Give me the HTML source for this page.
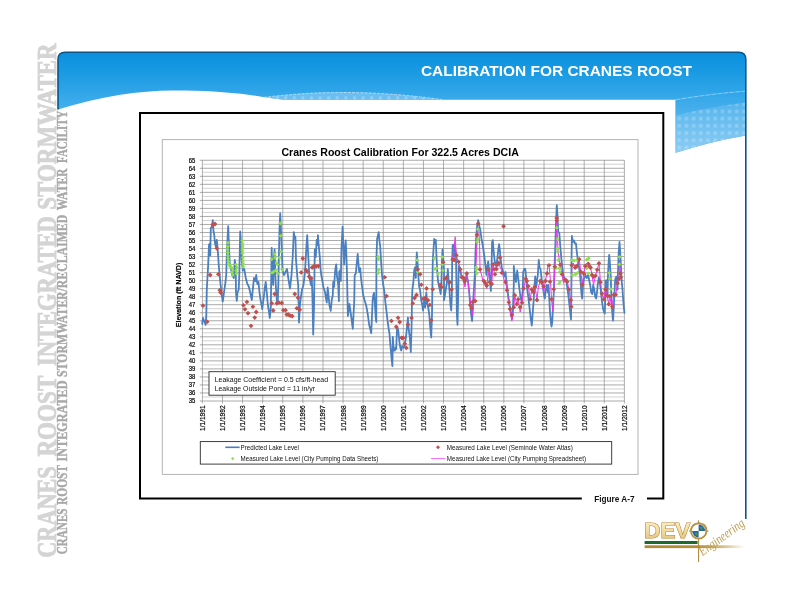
<!DOCTYPE html>
<html lang="en"><head><meta charset="utf-8"><title>Calibration for Cranes Roost</title>
<style>
html,body{margin:0;padding:0;background:#fff;}
body{width:800px;height:600px;overflow:hidden;font-family:"Liberation Sans",sans-serif;}
svg{display:block;position:absolute;left:0;top:0;}
.sans{font-family:"Liberation Sans",sans-serif;}
.serif{font-family:"Liberation Serif",serif;}
</style></head><body>
<svg width="800" height="600" viewBox="0 0 800 600">
<defs>
<linearGradient id="bg" x1="0" y1="52" x2="0" y2="110" gradientUnits="userSpaceOnUse">
<stop offset="0" stop-color="#0a8fde"/><stop offset="0.35" stop-color="#1a9ae3"/><stop offset="1" stop-color="#45b0ee"/></linearGradient>
<linearGradient id="tabg" x1="0" y1="100" x2="0" y2="152" gradientUnits="userSpaceOnUse">
<stop offset="0" stop-color="#3aa9ea"/><stop offset="1" stop-color="#7cc6f2"/></linearGradient>
<pattern id="dots" x="676" y="101" width="7.2" height="7.2" patternUnits="userSpaceOnUse">
<rect x="1.4" y="1.4" width="3.6" height="3.6" fill="#ffffff" fill-opacity="0.22"/></pattern>
<pattern id="dots2" x="266" y="93" width="8.6" height="8" patternUnits="userSpaceOnUse">
<rect x="1" y="3.4" width="3" height="3" fill="#ffffff" fill-opacity="0.25"/></pattern>
<linearGradient id="gold" x1="0" y1="0" x2="0" y2="1">
<stop offset="0" stop-color="#fdf3d2"/><stop offset="0.5" stop-color="#f3dca0"/><stop offset="1" stop-color="#dfba6c"/></linearGradient>
<linearGradient id="goldbar" x1="644" y1="0" x2="745" y2="0" gradientUnits="userSpaceOnUse">
<stop offset="0" stop-color="#b08a30"/><stop offset="0.55" stop-color="#b48e36"/><stop offset="0.8" stop-color="#d9c48e"/><stop offset="1" stop-color="#ffffff"/></linearGradient>
<clipPath id="plotclip"><rect x="202" y="160" width="423" height="241.5"/></clipPath>
</defs>
<rect width="800" height="600" fill="#ffffff"/>

<text class="serif" transform="translate(55.6,557.6999999999999) rotate(-90)" font-size="26.6" font-weight="bold" fill="#d4d4d4" stroke="#d4d4d4" stroke-width="0.85" stroke-linejoin="round" textLength="91.4" lengthAdjust="spacingAndGlyphs">CRANES</text>
<text class="serif" transform="translate(55.6,456.59999999999997) rotate(-90)" font-size="26.6" font-weight="bold" fill="#d4d4d4" stroke="#d4d4d4" stroke-width="0.85" stroke-linejoin="round" textLength="81.0" lengthAdjust="spacingAndGlyphs">ROOST</text>
<text class="serif" transform="translate(55.6,366.0) rotate(-90)" font-size="26.6" font-weight="bold" fill="#d4d4d4" stroke="#d4d4d4" stroke-width="0.85" stroke-linejoin="round" textLength="149.7" lengthAdjust="spacingAndGlyphs">INTEGRATED</text>
<text class="serif" transform="translate(55.6,209.70000000000002) rotate(-90)" font-size="26.6" font-weight="bold" fill="#d4d4d4" stroke="#d4d4d4" stroke-width="0.85" stroke-linejoin="round" textLength="166.4" lengthAdjust="spacingAndGlyphs">STORMWATER</text>
<text class="serif" transform="translate(67.2,554.2) rotate(-90)" font-size="13.6" font-weight="bold" fill="#a8a8a8" stroke="#a8a8a8" stroke-width="0.4" stroke-linejoin="round" textLength="45.7" lengthAdjust="spacingAndGlyphs">CRANES</text>
<text class="serif" transform="translate(67.2,504.9) rotate(-90)" font-size="13.6" font-weight="bold" fill="#a8a8a8" stroke="#a8a8a8" stroke-width="0.4" stroke-linejoin="round" textLength="39.8" lengthAdjust="spacingAndGlyphs">ROOST</text>
<text class="serif" transform="translate(67.2,461.5) rotate(-90)" font-size="13.6" font-weight="bold" fill="#a8a8a8" stroke="#a8a8a8" stroke-width="0.4" stroke-linejoin="round" textLength="81.0" lengthAdjust="spacingAndGlyphs">INTEGRATED</text>
<text class="serif" transform="translate(67.2,376.9) rotate(-90)" font-size="13.6" font-weight="bold" fill="#a8a8a8" stroke="#a8a8a8" stroke-width="0.4" stroke-linejoin="round" textLength="162.1" lengthAdjust="spacingAndGlyphs">STORMWATER/RECLAIMED</text>
<text class="serif" transform="translate(67.2,210.2) rotate(-90)" font-size="13.6" font-weight="bold" fill="#a8a8a8" stroke="#a8a8a8" stroke-width="0.4" stroke-linejoin="round" textLength="41.7" lengthAdjust="spacingAndGlyphs">WATER</text>
<text class="serif" transform="translate(67.2,162.89999999999998) rotate(-90)" font-size="13.6" font-weight="bold" fill="#a8a8a8" stroke="#a8a8a8" stroke-width="0.4" stroke-linejoin="round" textLength="52.1" lengthAdjust="spacingAndGlyphs">FACILITY</text>
<g id="banner">
<path d="M58,109.6 L58,59.5 Q58,52.3 65.2,52.3 L738.6,52.3 Q745.8,52.3 745.8,59.5 L745.8,135.4 Q712,141 675.6,152.8 L675.6,99.8 L284,99.8 C272,98.6 262,96.6 250,95 C225,91.6 200,90.4 172,90.5 C140,90.8 100,96 58,109.6 Z" fill="url(#bg)"/>
<path d="M675.6,99.8 L745.8,99.8 L745.8,135.4 Q712,141 675.6,152.8 Z" fill="url(#tabg)"/>
<path d="M675.6,115.3 Q712,106.5 745.8,102.5 L745.8,135.4 Q712,141 675.6,152.8 Z" fill="#ffffff" fill-opacity="0.12"/>
<path d="M675.6,115.3 Q712,106.5 745.8,102.5 L745.8,135.4 Q712,141 675.6,152.8 Z" fill="url(#dots)"/>
<path d="M675.6,99.8 Q712,93.6 745.8,91.2" fill="none" stroke="#d8eefb" stroke-width="0.7" stroke-opacity="0.75" stroke-dasharray="5 1"/>
<path d="M264,97.4 Q350,86 442,99.8 L284,99.8 Z" fill="#7ec6f2" fill-opacity="0.75"/>
<path d="M264,97.4 Q350,86 442,99.8 L284,99.8 Z" fill="url(#dots2)"/>
<path d="M264,97.4 Q350,86.6 442,99.6" fill="none" stroke="#e4f3fc" stroke-width="0.7" stroke-dasharray="3 1.2" stroke-opacity="0.9"/>
<path d="M58,109.6 L58,59.5 Q58,52.3 65.2,52.3 L738.6,52.3 Q745.8,52.3 745.8,59.5 L745.8,519" fill="none" stroke="#0a5686" stroke-width="1.6"/>
<text class="sans" x="420.9" y="76.1" font-size="15.5" font-weight="bold" fill="#ffffff" textLength="271" lengthAdjust="spacingAndGlyphs">CALIBRATION FOR CRANES ROOST</text>
</g>

<g id="frame">
<path d="M581.8,498.5 L140,498.5 L140,113 L663.3,113 L663.3,498.5 L647,498.5" fill="none" stroke="#000000" stroke-width="2"/>
<text class="sans" x="594.2" y="501.6" font-size="8.3" font-weight="bold" fill="#111111" textLength="40.3" lengthAdjust="spacingAndGlyphs">Figure A-7</text>
<rect x="162.3" y="139.6" width="475.7" height="334.8" fill="#ffffff" stroke="#b4b4b4" stroke-width="1"/>
</g>

<g id="grid" stroke-width="0.7">
<line x1="199.8" y1="160.25" x2="624.4" y2="160.25" stroke="#8e8e8e" stroke-width="0.75"/>
<line x1="202.4" y1="164.26" x2="624.4" y2="164.26" stroke="#b4b4b4" stroke-width="0.6"/>
<line x1="199.8" y1="168.28" x2="624.4" y2="168.28" stroke="#8e8e8e" stroke-width="0.75"/>
<line x1="202.4" y1="172.29" x2="624.4" y2="172.29" stroke="#b4b4b4" stroke-width="0.6"/>
<line x1="199.8" y1="176.30" x2="624.4" y2="176.30" stroke="#8e8e8e" stroke-width="0.75"/>
<line x1="202.4" y1="180.31" x2="624.4" y2="180.31" stroke="#b4b4b4" stroke-width="0.6"/>
<line x1="199.8" y1="184.32" x2="624.4" y2="184.32" stroke="#8e8e8e" stroke-width="0.75"/>
<line x1="202.4" y1="188.34" x2="624.4" y2="188.34" stroke="#b4b4b4" stroke-width="0.6"/>
<line x1="199.8" y1="192.35" x2="624.4" y2="192.35" stroke="#8e8e8e" stroke-width="0.75"/>
<line x1="202.4" y1="196.36" x2="624.4" y2="196.36" stroke="#b4b4b4" stroke-width="0.6"/>
<line x1="199.8" y1="200.38" x2="624.4" y2="200.38" stroke="#8e8e8e" stroke-width="0.75"/>
<line x1="202.4" y1="204.39" x2="624.4" y2="204.39" stroke="#b4b4b4" stroke-width="0.6"/>
<line x1="199.8" y1="208.40" x2="624.4" y2="208.40" stroke="#8e8e8e" stroke-width="0.75"/>
<line x1="202.4" y1="212.41" x2="624.4" y2="212.41" stroke="#b4b4b4" stroke-width="0.6"/>
<line x1="199.8" y1="216.43" x2="624.4" y2="216.43" stroke="#8e8e8e" stroke-width="0.75"/>
<line x1="202.4" y1="220.44" x2="624.4" y2="220.44" stroke="#b4b4b4" stroke-width="0.6"/>
<line x1="199.8" y1="224.45" x2="624.4" y2="224.45" stroke="#8e8e8e" stroke-width="0.75"/>
<line x1="202.4" y1="228.46" x2="624.4" y2="228.46" stroke="#b4b4b4" stroke-width="0.6"/>
<line x1="199.8" y1="232.47" x2="624.4" y2="232.47" stroke="#8e8e8e" stroke-width="0.75"/>
<line x1="202.4" y1="236.49" x2="624.4" y2="236.49" stroke="#b4b4b4" stroke-width="0.6"/>
<line x1="199.8" y1="240.50" x2="624.4" y2="240.50" stroke="#8e8e8e" stroke-width="0.75"/>
<line x1="202.4" y1="244.51" x2="624.4" y2="244.51" stroke="#b4b4b4" stroke-width="0.6"/>
<line x1="199.8" y1="248.53" x2="624.4" y2="248.53" stroke="#8e8e8e" stroke-width="0.75"/>
<line x1="202.4" y1="252.54" x2="624.4" y2="252.54" stroke="#b4b4b4" stroke-width="0.6"/>
<line x1="199.8" y1="256.55" x2="624.4" y2="256.55" stroke="#8e8e8e" stroke-width="0.75"/>
<line x1="202.4" y1="260.56" x2="624.4" y2="260.56" stroke="#b4b4b4" stroke-width="0.6"/>
<line x1="199.8" y1="264.57" x2="624.4" y2="264.57" stroke="#8e8e8e" stroke-width="0.75"/>
<line x1="202.4" y1="268.59" x2="624.4" y2="268.59" stroke="#b4b4b4" stroke-width="0.6"/>
<line x1="199.8" y1="272.60" x2="624.4" y2="272.60" stroke="#8e8e8e" stroke-width="0.75"/>
<line x1="202.4" y1="276.61" x2="624.4" y2="276.61" stroke="#b4b4b4" stroke-width="0.6"/>
<line x1="199.8" y1="280.62" x2="624.4" y2="280.62" stroke="#8e8e8e" stroke-width="0.75"/>
<line x1="202.4" y1="284.64" x2="624.4" y2="284.64" stroke="#b4b4b4" stroke-width="0.6"/>
<line x1="199.8" y1="288.65" x2="624.4" y2="288.65" stroke="#8e8e8e" stroke-width="0.75"/>
<line x1="202.4" y1="292.66" x2="624.4" y2="292.66" stroke="#b4b4b4" stroke-width="0.6"/>
<line x1="199.8" y1="296.68" x2="624.4" y2="296.68" stroke="#8e8e8e" stroke-width="0.75"/>
<line x1="202.4" y1="300.69" x2="624.4" y2="300.69" stroke="#b4b4b4" stroke-width="0.6"/>
<line x1="199.8" y1="304.70" x2="624.4" y2="304.70" stroke="#8e8e8e" stroke-width="0.75"/>
<line x1="202.4" y1="308.71" x2="624.4" y2="308.71" stroke="#b4b4b4" stroke-width="0.6"/>
<line x1="199.8" y1="312.73" x2="624.4" y2="312.73" stroke="#8e8e8e" stroke-width="0.75"/>
<line x1="202.4" y1="316.74" x2="624.4" y2="316.74" stroke="#b4b4b4" stroke-width="0.6"/>
<line x1="199.8" y1="320.75" x2="624.4" y2="320.75" stroke="#8e8e8e" stroke-width="0.75"/>
<line x1="202.4" y1="324.76" x2="624.4" y2="324.76" stroke="#b4b4b4" stroke-width="0.6"/>
<line x1="199.8" y1="328.77" x2="624.4" y2="328.77" stroke="#8e8e8e" stroke-width="0.75"/>
<line x1="202.4" y1="332.79" x2="624.4" y2="332.79" stroke="#b4b4b4" stroke-width="0.6"/>
<line x1="199.8" y1="336.80" x2="624.4" y2="336.80" stroke="#8e8e8e" stroke-width="0.75"/>
<line x1="202.4" y1="340.81" x2="624.4" y2="340.81" stroke="#b4b4b4" stroke-width="0.6"/>
<line x1="199.8" y1="344.82" x2="624.4" y2="344.82" stroke="#8e8e8e" stroke-width="0.75"/>
<line x1="202.4" y1="348.84" x2="624.4" y2="348.84" stroke="#b4b4b4" stroke-width="0.6"/>
<line x1="199.8" y1="352.85" x2="624.4" y2="352.85" stroke="#8e8e8e" stroke-width="0.75"/>
<line x1="202.4" y1="356.86" x2="624.4" y2="356.86" stroke="#b4b4b4" stroke-width="0.6"/>
<line x1="199.8" y1="360.88" x2="624.4" y2="360.88" stroke="#8e8e8e" stroke-width="0.75"/>
<line x1="202.4" y1="364.89" x2="624.4" y2="364.89" stroke="#b4b4b4" stroke-width="0.6"/>
<line x1="199.8" y1="368.90" x2="624.4" y2="368.90" stroke="#8e8e8e" stroke-width="0.75"/>
<line x1="202.4" y1="372.91" x2="624.4" y2="372.91" stroke="#b4b4b4" stroke-width="0.6"/>
<line x1="199.8" y1="376.93" x2="624.4" y2="376.93" stroke="#8e8e8e" stroke-width="0.75"/>
<line x1="202.4" y1="380.94" x2="624.4" y2="380.94" stroke="#b4b4b4" stroke-width="0.6"/>
<line x1="199.8" y1="384.95" x2="624.4" y2="384.95" stroke="#8e8e8e" stroke-width="0.75"/>
<line x1="202.4" y1="388.96" x2="624.4" y2="388.96" stroke="#b4b4b4" stroke-width="0.6"/>
<line x1="199.8" y1="392.98" x2="624.4" y2="392.98" stroke="#8e8e8e" stroke-width="0.75"/>
<line x1="202.4" y1="396.99" x2="624.4" y2="396.99" stroke="#b4b4b4" stroke-width="0.6"/>
<line x1="199.8" y1="401.00" x2="624.4" y2="401.00" stroke="#8e8e8e" stroke-width="0.75"/>
<line x1="202.40" y1="160.25" x2="202.40" y2="403.4" stroke="#878787" stroke-width="0.65"/>
<line x1="222.50" y1="160.25" x2="222.50" y2="403.4" stroke="#878787" stroke-width="0.65"/>
<line x1="242.59" y1="160.25" x2="242.59" y2="403.4" stroke="#878787" stroke-width="0.65"/>
<line x1="262.69" y1="160.25" x2="262.69" y2="403.4" stroke="#878787" stroke-width="0.65"/>
<line x1="282.78" y1="160.25" x2="282.78" y2="403.4" stroke="#878787" stroke-width="0.65"/>
<line x1="302.88" y1="160.25" x2="302.88" y2="403.4" stroke="#878787" stroke-width="0.65"/>
<line x1="322.97" y1="160.25" x2="322.97" y2="403.4" stroke="#878787" stroke-width="0.65"/>
<line x1="343.07" y1="160.25" x2="343.07" y2="403.4" stroke="#878787" stroke-width="0.65"/>
<line x1="363.16" y1="160.25" x2="363.16" y2="403.4" stroke="#878787" stroke-width="0.65"/>
<line x1="383.26" y1="160.25" x2="383.26" y2="403.4" stroke="#878787" stroke-width="0.65"/>
<line x1="403.35" y1="160.25" x2="403.35" y2="403.4" stroke="#878787" stroke-width="0.65"/>
<line x1="423.45" y1="160.25" x2="423.45" y2="403.4" stroke="#878787" stroke-width="0.65"/>
<line x1="443.54" y1="160.25" x2="443.54" y2="403.4" stroke="#878787" stroke-width="0.65"/>
<line x1="463.64" y1="160.25" x2="463.64" y2="403.4" stroke="#878787" stroke-width="0.65"/>
<line x1="483.73" y1="160.25" x2="483.73" y2="403.4" stroke="#878787" stroke-width="0.65"/>
<line x1="503.83" y1="160.25" x2="503.83" y2="403.4" stroke="#878787" stroke-width="0.65"/>
<line x1="523.92" y1="160.25" x2="523.92" y2="403.4" stroke="#878787" stroke-width="0.65"/>
<line x1="544.02" y1="160.25" x2="544.02" y2="403.4" stroke="#878787" stroke-width="0.65"/>
<line x1="564.11" y1="160.25" x2="564.11" y2="403.4" stroke="#878787" stroke-width="0.65"/>
<line x1="584.21" y1="160.25" x2="584.21" y2="403.4" stroke="#878787" stroke-width="0.65"/>
<line x1="604.30" y1="160.25" x2="604.30" y2="403.4" stroke="#878787" stroke-width="0.65"/>
<line x1="624.40" y1="160.25" x2="624.40" y2="403.4" stroke="#878787" stroke-width="0.65"/>
</g>
<g id="ylabels" class="sans" font-size="6.9" fill="#000" stroke="#000" stroke-width="0.2" text-anchor="end">
<text x="195.4" y="403.45" textLength="6.6" lengthAdjust="spacingAndGlyphs">35</text>
<text x="195.4" y="395.43" textLength="6.6" lengthAdjust="spacingAndGlyphs">36</text>
<text x="195.4" y="387.40" textLength="6.6" lengthAdjust="spacingAndGlyphs">37</text>
<text x="195.4" y="379.38" textLength="6.6" lengthAdjust="spacingAndGlyphs">38</text>
<text x="195.4" y="371.35" textLength="6.6" lengthAdjust="spacingAndGlyphs">39</text>
<text x="195.4" y="363.32" textLength="6.6" lengthAdjust="spacingAndGlyphs">40</text>
<text x="195.4" y="355.30" textLength="6.6" lengthAdjust="spacingAndGlyphs">41</text>
<text x="195.4" y="347.27" textLength="6.6" lengthAdjust="spacingAndGlyphs">42</text>
<text x="195.4" y="339.25" textLength="6.6" lengthAdjust="spacingAndGlyphs">43</text>
<text x="195.4" y="331.22" textLength="6.6" lengthAdjust="spacingAndGlyphs">44</text>
<text x="195.4" y="323.20" textLength="6.6" lengthAdjust="spacingAndGlyphs">45</text>
<text x="195.4" y="315.18" textLength="6.6" lengthAdjust="spacingAndGlyphs">46</text>
<text x="195.4" y="307.15" textLength="6.6" lengthAdjust="spacingAndGlyphs">47</text>
<text x="195.4" y="299.12" textLength="6.6" lengthAdjust="spacingAndGlyphs">48</text>
<text x="195.4" y="291.10" textLength="6.6" lengthAdjust="spacingAndGlyphs">49</text>
<text x="195.4" y="283.07" textLength="6.6" lengthAdjust="spacingAndGlyphs">50</text>
<text x="195.4" y="275.05" textLength="6.6" lengthAdjust="spacingAndGlyphs">51</text>
<text x="195.4" y="267.02" textLength="6.6" lengthAdjust="spacingAndGlyphs">52</text>
<text x="195.4" y="259.00" textLength="6.6" lengthAdjust="spacingAndGlyphs">53</text>
<text x="195.4" y="250.97" textLength="6.6" lengthAdjust="spacingAndGlyphs">54</text>
<text x="195.4" y="242.95" textLength="6.6" lengthAdjust="spacingAndGlyphs">55</text>
<text x="195.4" y="234.92" textLength="6.6" lengthAdjust="spacingAndGlyphs">56</text>
<text x="195.4" y="226.90" textLength="6.6" lengthAdjust="spacingAndGlyphs">57</text>
<text x="195.4" y="218.88" textLength="6.6" lengthAdjust="spacingAndGlyphs">58</text>
<text x="195.4" y="210.85" textLength="6.6" lengthAdjust="spacingAndGlyphs">59</text>
<text x="195.4" y="202.82" textLength="6.6" lengthAdjust="spacingAndGlyphs">60</text>
<text x="195.4" y="194.80" textLength="6.6" lengthAdjust="spacingAndGlyphs">61</text>
<text x="195.4" y="186.77" textLength="6.6" lengthAdjust="spacingAndGlyphs">62</text>
<text x="195.4" y="178.75" textLength="6.6" lengthAdjust="spacingAndGlyphs">63</text>
<text x="195.4" y="170.72" textLength="6.6" lengthAdjust="spacingAndGlyphs">64</text>
<text x="195.4" y="162.70" textLength="6.6" lengthAdjust="spacingAndGlyphs">65</text>
</g>
<g id="xlabels" class="sans" font-size="6.9" fill="#000" stroke="#000" stroke-width="0.2">
<text transform="translate(204.90,431) rotate(-90)" textLength="25.6" lengthAdjust="spacingAndGlyphs">1/1/1991</text>
<text transform="translate(225.00,431) rotate(-90)" textLength="25.6" lengthAdjust="spacingAndGlyphs">1/1/1992</text>
<text transform="translate(245.09,431) rotate(-90)" textLength="25.6" lengthAdjust="spacingAndGlyphs">1/1/1993</text>
<text transform="translate(265.19,431) rotate(-90)" textLength="25.6" lengthAdjust="spacingAndGlyphs">1/1/1994</text>
<text transform="translate(285.28,431) rotate(-90)" textLength="25.6" lengthAdjust="spacingAndGlyphs">1/1/1995</text>
<text transform="translate(305.38,431) rotate(-90)" textLength="25.6" lengthAdjust="spacingAndGlyphs">1/1/1996</text>
<text transform="translate(325.47,431) rotate(-90)" textLength="25.6" lengthAdjust="spacingAndGlyphs">1/1/1997</text>
<text transform="translate(345.57,431) rotate(-90)" textLength="25.6" lengthAdjust="spacingAndGlyphs">1/1/1998</text>
<text transform="translate(365.66,431) rotate(-90)" textLength="25.6" lengthAdjust="spacingAndGlyphs">1/1/1999</text>
<text transform="translate(385.76,431) rotate(-90)" textLength="25.6" lengthAdjust="spacingAndGlyphs">1/1/2000</text>
<text transform="translate(405.85,431) rotate(-90)" textLength="25.6" lengthAdjust="spacingAndGlyphs">1/1/2001</text>
<text transform="translate(425.95,431) rotate(-90)" textLength="25.6" lengthAdjust="spacingAndGlyphs">1/1/2002</text>
<text transform="translate(446.04,431) rotate(-90)" textLength="25.6" lengthAdjust="spacingAndGlyphs">1/1/2003</text>
<text transform="translate(466.14,431) rotate(-90)" textLength="25.6" lengthAdjust="spacingAndGlyphs">1/1/2004</text>
<text transform="translate(486.23,431) rotate(-90)" textLength="25.6" lengthAdjust="spacingAndGlyphs">1/1/2005</text>
<text transform="translate(506.33,431) rotate(-90)" textLength="25.6" lengthAdjust="spacingAndGlyphs">1/1/2006</text>
<text transform="translate(526.42,431) rotate(-90)" textLength="25.6" lengthAdjust="spacingAndGlyphs">1/1/2007</text>
<text transform="translate(546.52,431) rotate(-90)" textLength="25.6" lengthAdjust="spacingAndGlyphs">1/1/2008</text>
<text transform="translate(566.61,431) rotate(-90)" textLength="25.6" lengthAdjust="spacingAndGlyphs">1/1/2009</text>
<text transform="translate(586.71,431) rotate(-90)" textLength="25.6" lengthAdjust="spacingAndGlyphs">1/1/2010</text>
<text transform="translate(606.80,431) rotate(-90)" textLength="25.6" lengthAdjust="spacingAndGlyphs">1/1/2011</text>
<text transform="translate(626.90,431) rotate(-90)" textLength="25.6" lengthAdjust="spacingAndGlyphs">1/1/2012</text>
</g>
<text class="sans" transform="translate(180.5,327.3) rotate(-90)" font-size="7.4" font-weight="bold" fill="#000" stroke="#000" stroke-width="0.15" textLength="64.6" lengthAdjust="spacingAndGlyphs">Elevation (ft NAVD)</text>
<text class="sans" x="281.4" y="155.9" font-size="11.5" font-weight="bold" fill="#000000" textLength="237.4" lengthAdjust="spacingAndGlyphs">Cranes Roost Calibration For 322.5 Acres DCIA</text>
<g id="series">
<polyline points="202.2,324.0 203.0,318.0 204.5,321.8 205.7,324.8 206.3,315.0 206.8,289.5 208.2,264.5 209.0,245.0 209.8,243.5 210.2,255.5 210.8,228.5 212.0,226.2 212.8,220.2 213.5,231.5 214.2,234.5 215.0,243.5 215.8,246.5 216.8,239.8 217.7,249.5 218.8,266.0 220.2,281.0 221.8,295.5 222.8,301.5 224.0,292.5 225.5,282.0 226.2,275.0 227.0,249.5 228.2,226.2 228.8,242.0 229.7,263.0 230.8,267.5 232.2,275.0 233.8,278.0 234.8,260.0 235.7,267.5 236.0,292.5 236.8,300.8 237.5,292.5 238.7,289.5 239.3,275.0 240.2,231.5 240.8,239.0 241.7,260.0 242.8,270.5 244.2,269.0 245.8,278.0 247.2,283.5 248.8,286.5 250.2,292.5 251.8,300.0 252.8,289.5 254.0,278.0 255.5,281.0 256.2,275.0 257.3,284.0 258.5,282.0 259.2,289.5 260.3,298.5 261.5,304.5 262.2,309.0 263.8,297.0 264.8,288.0 265.7,281.8 266.8,292.5 267.8,304.5 269.0,312.0 269.8,318.0 270.8,307.5 271.7,248.0 272.3,275.0 273.2,285.0 273.8,260.0 274.6,249.5 275.3,275.0 275.8,285.0 276.8,300.0 277.7,303.0 278.3,285.0 278.8,260.0 279.5,230.0 280.2,213.2 281.0,230.0 281.8,249.5 282.5,270.5 284.0,275.0 285.5,272.0 287.0,269.0 288.5,279.5 290.0,288.5 291.5,275.0 292.7,257.0 293.8,232.2 294.5,237.5 295.4,236.8 296.0,260.0 297.2,275.0 297.2,276.0 298.2,285.0 299.0,322.5 299.8,307.5 300.5,300.0 302.0,289.5 303.5,285.0 305.0,272.0 306.5,245.0 307.2,235.2 308.3,257.0 309.5,278.0 311.0,285.0 311.8,277.5 312.5,300.0 313.2,334.5 314.0,307.5 314.8,249.5 315.8,257.0 316.7,239.8 317.8,245.0 317.9,235.2 318.7,245.0 319.8,257.0 320.8,272.0 323.5,287.5 325.0,292.0 326.2,299.5 326.8,302.5 327.7,287.5 328.3,293.5 329.5,305.5 330.7,310.8 331.8,299.5 332.8,295.0 333.2,281.8 334.0,287.0 335.2,270.5 336.2,264.5 337.0,276.5 338.2,284.0 338.9,301.0 339.2,272.0 340.0,270.5 340.8,281.0 341.5,248.0 342.6,226.7 343.3,245.0 344.2,264.5 344.9,249.5 345.7,240.5 346.3,252.5 346.9,270.5 347.5,299.5 347.9,316.0 348.7,310.0 349.4,304.0 350.5,311.5 351.7,320.5 352.8,328.8 353.5,314.5 354.2,302.5 354.7,275.0 355.8,273.5 356.8,263.0 357.7,254.0 358.4,263.0 359.2,272.0 360.2,268.2 361.0,278.0 362.1,287.0 363.2,295.0 364.8,301.0 366.2,305.5 367.8,314.5 369.2,325.0 370.4,329.5 371.2,333.2 371.9,317.5 372.7,299.5 373.3,295.0 374.1,292.8 374.8,302.5 375.7,317.5 376.3,322.0 376.4,260.0 377.1,239.0 377.8,236.0 378.7,232.2 379.4,240.5 380.2,246.5 381.1,261.5 382.0,275.0 383.1,284.0 384.2,290.5 385.4,302.5 386.5,311.5 387.7,322.0 388.8,329.5 389.5,334.0 390.2,343.0 391.0,352.0 391.8,361.0 392.4,366.2 392.8,337.0 393.7,350.5 394.8,350.5 395.5,347.5 396.2,349.0 397.0,329.5 397.8,328.0 398.5,332.5 399.2,340.0 400.0,346.0 401.2,350.5 402.2,346.0 403.3,347.5 404.5,346.0 406.0,337.0 407.2,325.0 407.9,317.5 408.7,329.5 409.8,337.0 410.8,352.0 411.6,325.0 412.0,299.5 412.4,289.0 413.2,284.0 414.2,270.5 415.0,267.5 415.8,278.0 416.8,252.5 417.7,264.5 418.3,275.0 419.2,287.0 420.0,289.5 421.2,300.0 422.2,304.5 423.0,310.5 424.2,300.0 425.2,307.5 426.3,292.5 427.2,303.0 428.2,307.5 429.3,315.0 430.2,327.0 431.2,337.5 432.0,315.0 432.4,285.0 432.8,260.0 433.5,249.5 434.2,239.0 435.0,243.5 435.8,239.8 436.5,257.0 437.2,270.5 438.0,281.0 438.8,285.0 439.8,289.5 440.7,294.0 441.4,285.0 441.8,266.0 442.5,249.5 443.2,257.0 444.0,270.5 444.0,300.0 444.8,295.5 445.8,289.5 447.0,282.0 447.8,269.0 448.5,278.0 449.6,292.5 450.4,304.5 451.2,310.5 451.8,297.0 452.2,260.0 452.7,245.0 453.3,245.0 454.2,257.0 454.8,243.5 456.0,257.0 456.9,315.0 457.5,324.8 458.1,300.0 458.7,266.0 459.8,267.5 461.2,275.0 462.8,278.0 465.0,284.0 466.5,275.0 468.0,281.0 469.2,292.5 470.2,304.5 471.0,313.5 472.1,321.0 472.8,307.5 473.7,292.5 474.8,275.0 475.5,252.5 476.2,237.5 477.0,227.0 478.2,220.2 479.2,225.5 480.3,230.0 481.5,239.0 482.7,245.0 483.8,252.5 484.8,260.0 485.7,267.5 486.4,275.0 487.2,267.5 488.2,261.5 489.0,269.0 489.8,281.0 490.9,291.0 491.7,260.0 492.1,242.0 492.8,240.2 493.5,249.5 494.2,257.0 495.0,263.0 496.1,266.0 497.2,260.0 498.3,249.5 499.1,244.2 499.8,249.5 500.7,260.0 501.8,267.5 503.2,272.0 504.3,276.5 505.5,272.0 506.7,284.0 507.8,292.5 508.8,300.0 510.0,307.5 511.2,315.0 512.2,318.8 513.0,307.5 513.8,285.0 513.8,266.0 514.8,275.0 516.0,282.0 517.2,270.5 518.2,278.0 519.3,288.0 520.5,297.0 521.7,301.5 522.8,289.5 523.2,272.0 524.2,269.0 525.3,269.0 526.2,278.0 527.2,289.5 528.3,297.0 529.5,307.5 530.7,318.0 531.8,325.5 532.8,312.0 533.7,300.0 534.5,285.0 535.2,276.5 536.2,287.0 537.8,275.0 538.8,260.0 539.5,267.5 540.5,269.0 541.5,278.0 542.5,285.0 543.7,292.5 544.8,298.5 545.8,289.5 547.0,285.0 547.8,292.5 548.5,285.0 549.2,297.0 550.0,312.0 550.8,321.0 551.5,326.7 552.2,322.5 553.0,307.5 553.8,292.5 554.5,267.5 555.2,249.5 556.0,222.5 556.8,205.2 557.5,215.0 558.2,231.5 559.3,233.0 560.2,245.0 561.2,257.0 562.3,267.5 563.5,276.5 565.0,279.0 566.5,282.0 568.0,292.5 569.2,303.0 570.2,312.0 571.0,319.5 571.3,300.0 571.5,260.0 571.9,236.0 572.8,242.0 574.0,240.5 575.0,243.5 576.0,243.5 576.7,251.0 577.8,260.0 578.8,266.0 580.0,275.0 580.0,274.5 580.8,285.0 581.5,294.0 582.2,298.5 583.0,285.0 583.8,279.0 584.5,278.0 585.5,275.0 586.8,278.0 588.2,275.0 589.3,281.0 590.2,285.0 591.2,292.5 592.3,294.0 593.2,285.0 594.2,289.5 595.3,297.0 596.2,298.5 597.0,292.5 597.7,285.0 598.8,277.5 599.8,282.0 600.7,289.5 601.8,300.0 602.8,307.5 604.0,312.0 604.8,313.5 605.2,300.0 605.5,281.0 606.2,280.2 606.7,285.0 607.5,295.5 608.0,275.0 608.5,264.5 609.2,254.8 610.0,264.5 610.8,278.0 611.0,285.0 611.5,300.0 612.2,312.0 613.0,320.7 613.8,307.5 614.5,292.5 615.2,279.5 616.3,276.5 617.2,284.0 617.5,289.5 618.0,272.0 618.7,252.5 619.5,242.0 620.2,252.5 621.0,267.5 621.7,281.0 622.5,289.5 623.2,300.0 624.0,309.0 624.5,312.8" fill="none" stroke="#4a7fc0" stroke-width="1.8" stroke-linejoin="round" stroke-linecap="round" />
<polyline points="451.8,260.0 452.7,257.0 453.8,251.0 455.2,236.8 456.0,251.0 457.2,258.5 458.7,263.0 460.2,269.0 461.7,275.0 463.5,279.5 465.0,287.0 466.5,273.5 468.0,282.0 470.2,300.0 471.8,312.0 472.5,315.0 473.2,303.0 474.8,300.0 475.8,270.5 477.0,242.0 477.8,227.0 478.8,230.0 479.6,243.5 480.0,269.0 481.5,275.0 483.0,281.0 485.2,284.8 486.8,288.5 488.2,270.5 489.8,282.5 491.7,285.5 492.8,266.0 494.2,270.5 495.8,267.5 498.0,261.5 499.5,266.0 501.8,270.5 504.0,279.5 505.8,282.8 507.0,291.0 508.8,303.0 510.0,309.8 511.8,321.0 513.8,307.5 514.8,295.5 516.8,304.5 518.2,299.2 520.2,312.0 522.0,303.0 523.5,288.8 525.8,279.0 526.8,281.2 528.3,285.8 530.2,299.2 531.8,289.5 533.5,292.2 535.2,287.2 537.0,300.0 538.3,287.2 540.5,280.5 542.2,283.5 543.7,292.5 545.5,280.2 547.0,273.3 547.8,266.0 549.0,265.2 550.5,281.2 551.5,299.2 552.7,310.5 553.8,289.2 554.8,266.8 556.0,245.0 556.8,218.0 557.5,239.0 558.2,252.5 559.3,260.0 560.2,264.8 562.0,274.2 563.5,283.2 565.0,279.0 567.2,280.5 568.8,289.5 570.7,300.0 571.3,306.8 571.8,265.2 573.2,263.0 575.2,267.5 577.0,266.0 579.2,259.2 580.8,271.7 582.2,284.2 583.8,273.5 585.2,266.0 588.2,263.8 590.5,267.5 592.0,275.0 593.5,285.0 595.5,275.8 597.2,269.8 599.0,263.3 600.5,282.2 602.0,293.7 604.0,299.2 605.5,289.5 607.0,295.5 608.8,304.2 609.5,296.2 612.2,306.8 613.8,294.8 615.7,294.8 617.5,283.5 619.0,279.0 619.5,260.0 620.2,273.5 620.8,277.2" fill="none" stroke="#f432f0" stroke-width="1.0" stroke-linejoin="round" stroke-linecap="round" />
<path fill="#8ee04a" d="M226.2,242.8L228.2,240.8L230.2,242.8L228.2,244.8ZM225.8,246.5L227.8,244.5L229.8,246.5L227.8,248.5ZM225.4,249.5L227.4,247.5L229.4,249.5L227.4,251.5ZM225.8,252.5L227.8,250.5L229.8,252.5L227.8,254.5ZM225.8,255.5L227.8,253.5L229.8,255.5L227.8,257.5ZM226.2,258.5L228.2,256.5L230.2,258.5L228.2,260.5ZM226.5,261.5L228.5,259.5L230.5,261.5L228.5,263.5ZM227.2,264.5L229.2,262.5L231.2,264.5L229.2,266.5ZM228.0,266.8L230.0,264.8L232.0,266.8L230.0,268.8ZM230.2,268.2L232.2,266.2L234.2,268.2L232.2,270.2ZM229.9,272.0L231.9,270.0L233.9,272.0L231.9,274.0ZM230.7,275.0L232.7,273.0L234.7,275.0L232.7,277.0ZM234.0,264.5L236.0,262.5L238.0,264.5L236.0,266.5ZM234.8,267.5L236.8,265.5L238.8,267.5L236.8,269.5ZM234.0,270.5L236.0,268.5L238.0,270.5L236.0,272.5ZM234.4,273.5L236.4,271.5L238.4,273.5L236.4,275.5ZM240.3,240.5L242.3,238.5L244.3,240.5L242.3,242.5ZM240.4,243.5L242.4,241.5L244.4,243.5L242.4,245.5ZM240.6,245.8L242.6,243.8L244.6,245.8L242.6,247.8ZM240.6,248.0L242.6,246.0L244.6,248.0L242.6,250.0ZM240.3,250.2L242.3,248.2L244.3,250.2L242.3,252.2ZM240.4,253.2L242.4,251.2L244.4,253.2L242.4,255.2ZM240.8,257.8L242.8,255.8L244.8,257.8L242.8,259.8ZM240.9,260.8L242.9,258.8L244.9,260.8L242.9,262.8ZM241.1,263.8L243.1,261.8L245.1,263.8L243.1,265.8ZM241.2,266.8L243.2,264.8L245.2,266.8L243.2,268.8ZM269.7,259.2L271.7,257.2L273.7,259.2L271.7,261.2ZM272.7,254.0L274.7,252.0L276.7,254.0L274.7,256.0ZM273.0,257.8L275.0,255.8L277.0,257.8L275.0,259.8ZM274.5,263.0L276.5,261.0L278.5,263.0L276.5,265.0ZM275.2,264.5L277.2,262.5L279.2,264.5L277.2,266.5ZM277.5,257.8L279.5,255.8L281.5,257.8L279.5,259.8ZM278.4,223.2L280.4,221.2L282.4,223.2L280.4,225.2ZM278.7,235.7L280.7,233.7L282.7,235.7L280.7,237.7ZM279.1,251.4L281.1,249.4L283.1,251.4L281.1,253.4ZM280.2,269.8L282.2,267.8L284.2,269.8L282.2,271.8ZM275.7,273.5L277.7,271.5L279.7,273.5L277.7,275.5ZM273.8,270.2L275.8,268.2L277.8,270.2L275.8,272.2ZM271.5,271.7L273.5,269.7L275.5,271.7L273.5,273.7ZM270.0,272.8L272.0,270.8L274.0,272.8L272.0,274.8ZM376.2,256.7L378.2,254.7L380.2,256.7L378.2,258.7ZM376.7,259.2L378.7,257.2L380.7,259.2L378.7,261.2ZM376.7,269.8L378.7,267.8L380.7,269.8L378.7,271.8ZM376.2,273.1L378.2,271.1L380.2,273.1L378.2,275.1ZM415.2,260.0L417.2,258.0L419.2,260.0L417.2,262.0ZM415.7,271.7L417.7,269.7L419.7,271.7L417.7,273.7ZM432.2,258.2L434.2,256.2L436.2,258.2L434.2,260.2ZM433.0,269.0L435.0,267.0L437.0,269.0L435.0,271.0ZM434.5,268.2L436.5,266.2L438.5,268.2L436.5,270.2ZM436.0,273.8L438.0,271.8L440.0,273.8L438.0,275.8ZM440.2,257.0L442.2,255.0L444.2,257.0L442.2,259.0ZM440.5,264.5L442.5,262.5L444.5,264.5L442.5,266.5ZM440.8,270.5L442.8,268.5L444.8,270.5L442.8,272.5ZM475.8,229.2L477.8,227.2L479.8,229.2L477.8,231.2ZM475.8,239.0L477.8,237.0L479.8,239.0L477.8,241.0ZM475.0,242.0L477.0,240.0L479.0,242.0L477.0,244.0ZM474.2,267.5L476.2,265.5L478.2,267.5L476.2,269.5ZM474.2,269.8L476.2,267.8L478.2,269.8L476.2,271.8ZM474.7,273.5L476.7,271.5L478.7,273.5L476.7,275.5ZM554.8,227.8L556.8,225.8L558.8,227.8L556.8,229.8ZM555.5,239.0L557.5,237.0L559.5,239.0L557.5,241.0ZM555.5,248.8L557.5,246.8L559.5,248.8L557.5,250.8ZM555.8,251.8L557.8,249.8L559.8,251.8L557.8,253.8ZM556.2,260.0L558.2,258.0L560.2,260.0L558.2,262.0ZM554.0,268.2L556.0,266.2L558.0,268.2L556.0,270.2ZM557.3,268.2L559.3,266.2L561.3,268.2L559.3,270.2ZM557.8,272.0L559.8,270.0L561.8,272.0L559.8,274.0ZM557.8,281.8L559.8,279.8L561.8,281.8L559.8,283.8ZM557.0,283.2L559.0,281.2L561.0,283.2L559.0,285.2ZM569.8,260.0L571.8,258.0L573.8,260.0L571.8,262.0ZM572.0,260.8L574.0,258.8L576.0,260.8L574.0,262.8ZM575.0,260.0L577.0,258.0L579.0,260.0L577.0,262.0ZM584.8,259.7L586.8,257.7L588.8,259.7L586.8,261.7ZM586.7,258.2L588.7,256.2L590.7,258.2L588.7,260.2ZM570.5,275.0L572.5,273.0L574.5,275.0L572.5,277.0ZM573.5,274.2L575.5,272.2L577.5,274.2L575.5,276.2ZM575.3,273.1L577.3,271.1L579.3,273.1L577.3,275.1ZM584.8,268.2L586.8,266.2L588.8,268.2L586.8,270.2ZM586.2,273.5L588.2,271.5L590.2,273.5L588.2,275.5ZM607.2,273.1L609.2,271.1L611.2,273.1L609.2,275.1ZM607.7,278.8L609.7,276.8L611.7,278.8L609.7,280.8ZM617.5,257.0L619.5,255.0L621.5,257.0L619.5,259.0ZM617.5,264.2L619.5,262.2L621.5,264.2L619.5,266.2ZM617.8,273.5L619.8,271.5L621.8,273.5L619.8,275.5ZM608.8,289.2L610.8,287.2L612.8,289.2L610.8,291.2Z"/>
<path fill="#c0504d" d="M210.3,224.8L212.8,222.3L215.2,224.8L212.8,227.2ZM212.6,224.0L215.0,221.6L217.4,224.0L215.0,226.4ZM214.4,248.3L216.8,245.9L219.2,248.3L216.8,250.7ZM207.8,275.0L210.2,272.6L212.6,275.0L210.2,277.4ZM215.9,274.2L218.3,271.9L220.7,274.2L218.3,276.6ZM200.6,305.7L203.0,303.3L205.4,305.7L203.0,308.1ZM204.8,321.8L207.2,319.4L209.6,321.8L207.2,324.1ZM217.4,290.2L219.8,287.9L222.2,290.2L219.8,292.6ZM218.2,292.5L220.6,290.1L223.0,292.5L220.6,294.9ZM241.1,305.2L243.5,302.9L245.9,305.2L243.5,307.6ZM244.5,301.9L246.9,299.6L249.3,301.9L246.9,304.3ZM242.6,309.3L245.0,306.9L247.4,309.3L245.0,311.7ZM245.6,313.2L248.0,310.8L250.4,313.2L248.0,315.6ZM250.5,306.8L252.9,304.4L255.3,306.8L252.9,309.1ZM253.8,312.0L256.2,309.6L258.6,312.0L256.2,314.4ZM252.3,317.6L254.8,315.2L257.1,317.6L254.8,319.9ZM248.6,325.8L251.0,323.4L253.4,325.8L251.0,328.2ZM269.3,303.3L271.7,300.9L274.1,303.3L271.7,305.7ZM270.8,310.5L273.2,308.1L275.6,310.5L273.2,312.9ZM272.3,294.0L274.7,291.6L277.1,294.0L274.7,296.4ZM274.4,303.3L276.8,300.9L279.2,303.3L276.8,305.7ZM276.4,302.7L278.8,300.3L281.1,302.7L278.8,305.1ZM279.4,303.0L281.8,300.6L284.1,303.0L281.8,305.4ZM280.9,310.2L283.2,307.8L285.6,310.2L283.2,312.6ZM283.1,310.2L285.5,307.8L287.9,310.2L285.5,312.6ZM284.3,314.6L286.7,312.2L289.1,314.6L286.7,316.9ZM286.1,314.6L288.5,312.2L290.9,314.6L288.5,316.9ZM287.9,315.8L290.3,313.4L292.7,315.8L290.3,318.1ZM289.9,316.2L292.2,313.8L294.6,316.2L292.2,318.6ZM292.4,294.0L294.8,291.6L297.2,294.0L294.8,296.4ZM295.6,297.8L297.9,295.4L300.3,297.8L297.9,300.1ZM294.4,308.2L296.8,305.9L299.1,308.2L296.8,310.6ZM297.4,309.8L299.8,307.4L302.1,309.8L299.8,312.1ZM300.4,258.5L302.8,256.1L305.1,258.5L302.8,260.9ZM298.9,272.4L301.2,270.1L303.6,272.4L301.2,274.8ZM303.4,269.8L305.8,267.4L308.1,269.8L305.8,272.1ZM304.9,271.7L307.2,269.3L309.6,271.7L307.2,274.1ZM306.8,276.5L309.2,274.1L311.6,276.5L309.2,278.9ZM308.6,278.3L311.0,275.9L313.4,278.3L311.0,280.7ZM309.8,267.5L312.2,265.1L314.6,267.5L312.2,269.9ZM311.9,266.0L314.3,263.6L316.7,266.0L314.3,268.4ZM313.9,266.3L316.2,263.9L318.6,266.3L316.2,268.7ZM316.1,266.0L318.5,263.6L320.9,266.0L318.5,268.4ZM382.3,277.2L384.7,274.9L387.1,277.2L384.7,279.6ZM415.3,269.3L417.7,266.9L420.1,269.3L417.7,271.7ZM417.9,274.2L420.2,271.9L422.6,274.2L420.2,276.6ZM418.9,284.8L421.3,282.4L423.7,284.8L421.3,287.1ZM424.2,288.5L426.6,286.1L428.9,288.5L426.6,290.9ZM384.1,296.1L386.5,293.7L388.9,296.1L386.5,298.4ZM389.1,320.9L391.4,318.6L393.8,320.9L391.4,323.3ZM395.7,317.8L398.1,315.4L400.4,317.8L398.1,320.2ZM397.3,322.0L399.7,319.6L402.1,322.0L399.7,324.4ZM393.9,326.8L396.2,324.4L398.6,326.8L396.2,329.2ZM399.1,337.8L401.5,335.4L403.9,337.8L401.5,340.1ZM400.9,337.8L403.3,335.4L405.7,337.8L403.3,340.1ZM402.4,343.8L404.8,341.4L407.2,343.8L404.8,346.1ZM403.9,347.8L406.3,345.4L408.7,347.8L406.3,350.2ZM405.6,324.6L407.9,322.2L410.3,324.6L407.9,326.9ZM409.2,317.9L411.6,315.6L413.9,317.9L411.6,320.3ZM410.4,303.2L412.8,300.9L415.1,303.2L412.8,305.6ZM412.2,298.0L414.6,295.6L416.9,298.0L414.6,300.4ZM414.1,295.0L416.5,292.6L418.9,295.0L416.5,297.4ZM420.9,298.8L423.2,296.4L425.6,298.8L423.2,301.1ZM422.8,298.0L425.2,295.6L427.6,298.0L425.2,300.4ZM425.7,300.2L428.1,297.9L430.4,300.2L428.1,302.6ZM430.4,289.2L432.8,286.9L435.1,289.2L432.8,291.6ZM437.9,284.8L440.2,282.4L442.6,284.8L440.2,287.1ZM438.9,287.0L441.3,284.6L443.7,287.0L441.3,289.4ZM440.9,262.2L443.2,259.9L445.6,262.2L443.2,264.6ZM442.4,278.8L444.8,276.4L447.1,278.8L444.8,281.1ZM444.3,277.2L446.7,274.9L449.1,277.2L446.7,279.6ZM447.3,282.2L449.7,279.8L452.1,282.2L449.7,284.6ZM450.3,259.2L452.7,256.9L455.1,259.2L452.7,261.6ZM451.8,260.0L454.2,257.6L456.6,260.0L454.2,262.4ZM454.1,255.2L456.4,252.8L458.8,255.2L456.4,257.6ZM456.2,261.8L458.6,259.4L460.9,261.8L458.6,264.2ZM457.8,269.3L460.2,266.9L462.6,269.3L460.2,271.7ZM459.3,277.2L461.7,274.9L464.1,277.2L461.7,279.6ZM461.1,278.0L463.5,275.6L465.9,278.0L463.5,280.4ZM462.3,281.0L464.7,278.6L467.1,281.0L464.7,283.4ZM464.4,273.5L466.8,271.1L469.2,273.5L466.8,275.9ZM475.8,223.7L478.2,221.3L480.6,223.7L478.2,226.1ZM474.6,234.8L477.0,232.4L479.4,234.8L477.0,237.2ZM477.6,269.4L480.0,267.1L482.4,269.4L480.0,271.8ZM481.4,281.0L483.8,278.6L486.1,281.0L483.8,283.4ZM482.9,282.9L485.2,280.6L487.6,282.9L485.2,285.3ZM484.4,285.5L486.8,283.1L489.1,285.5L486.8,287.9ZM485.9,269.3L488.2,266.9L490.6,269.3L488.2,271.7ZM487.4,282.2L489.8,279.8L492.1,282.2L489.8,284.6ZM489.3,284.0L491.7,281.6L494.1,284.0L491.7,286.4ZM490.8,264.5L493.2,262.1L495.6,264.5L493.2,266.9ZM491.9,269.3L494.2,266.9L496.6,269.3L494.2,271.7ZM492.6,274.2L495.0,271.9L497.4,274.2L495.0,276.6ZM494.1,269.0L496.5,266.6L498.9,269.0L496.5,271.4ZM495.2,264.5L497.6,262.1L499.9,264.5L497.6,266.9ZM496.4,263.0L498.8,260.6L501.1,263.0L498.8,265.4ZM497.6,257.8L499.9,255.3L502.3,257.8L499.9,260.1ZM499.4,272.8L501.8,270.4L504.1,272.8L501.8,275.1ZM501.2,226.2L503.6,223.8L505.9,226.2L503.6,228.7ZM503.1,282.2L505.5,279.8L507.9,282.2L505.5,284.6ZM521.1,288.5L523.5,286.1L525.9,288.5L523.5,290.9ZM523.4,278.8L525.8,276.4L528.1,278.8L525.8,281.1ZM524.4,281.0L526.8,278.6L529.2,281.0L526.8,283.4ZM525.9,286.2L528.3,283.9L530.7,286.2L528.3,288.6ZM532.4,287.0L534.8,284.6L537.1,287.0L534.8,289.4ZM427.4,304.9L429.8,302.6L432.1,304.9L429.8,307.3ZM428.9,320.2L431.2,317.9L433.6,320.2L431.2,322.6ZM449.1,289.5L451.5,287.1L453.9,289.5L451.5,291.9ZM467.9,304.9L470.2,302.6L472.6,304.9L470.2,307.3ZM469.4,308.2L471.8,305.9L474.1,308.2L471.8,310.6ZM470.4,301.9L472.8,299.6L475.2,301.9L472.8,304.3ZM472.8,301.1L475.2,298.7L477.6,301.1L475.2,303.4ZM504.6,290.2L507.0,287.9L509.4,290.2L507.0,292.6ZM506.4,302.2L508.8,299.9L511.2,302.2L508.8,304.6ZM507.6,309.0L510.0,306.6L512.4,309.0L510.0,311.4ZM509.4,315.0L511.8,312.6L514.2,315.0L511.8,317.4ZM511.4,307.2L513.8,304.8L516.1,307.2L513.8,309.6ZM512.4,295.2L514.8,292.8L517.2,295.2L514.8,297.6ZM514.4,304.2L516.8,301.8L519.1,304.2L516.8,306.6ZM515.9,299.2L518.2,296.9L520.6,299.2L518.2,301.6ZM517.8,307.2L520.2,304.8L522.6,307.2L520.2,309.6ZM519.6,302.7L522.0,300.3L524.4,302.7L522.0,305.1ZM527.9,299.2L530.2,296.9L532.6,299.2L530.2,301.6ZM529.4,289.5L531.8,287.1L534.1,289.5L531.8,291.9ZM531.1,292.2L533.5,289.8L535.9,292.2L533.5,294.6ZM534.6,300.0L537.0,297.6L539.4,300.0L537.0,302.4ZM537.9,281.0L540.2,278.6L542.6,281.0L540.2,283.4ZM539.6,282.5L542.0,280.1L544.4,282.5L542.0,284.9ZM541.3,286.2L543.7,283.9L546.1,286.2L543.7,288.6ZM543.1,281.0L545.5,278.6L547.9,281.0L545.5,283.4ZM544.6,273.5L547.0,271.1L549.4,273.5L547.0,275.9ZM546.6,265.2L549.0,262.9L551.4,265.2L549.0,267.6ZM547.6,281.8L550.0,279.4L552.4,281.8L550.0,284.1ZM554.4,218.0L556.8,215.6L559.1,218.0L556.8,220.4ZM554.4,220.2L556.8,217.8L559.1,220.2L556.8,222.7ZM552.4,266.8L554.8,264.4L557.2,266.8L554.8,269.1ZM557.8,264.8L560.2,262.4L562.6,264.8L560.2,267.2ZM559.6,274.2L562.0,271.9L564.4,274.2L562.0,276.6ZM562.3,279.5L564.7,277.1L567.1,279.5L564.7,281.9ZM563.8,280.2L566.2,277.9L568.6,280.2L566.2,282.6ZM564.9,281.8L567.2,279.4L569.6,281.8L567.2,284.1ZM569.4,265.2L571.8,262.9L574.1,265.2L571.8,267.6ZM572.8,267.5L575.2,265.1L577.6,267.5L575.2,269.9ZM574.6,266.0L577.0,263.6L579.4,266.0L577.0,268.4ZM576.9,259.2L579.2,256.9L581.6,259.2L579.2,261.6ZM578.4,271.7L580.8,269.3L583.1,271.7L580.8,274.1ZM581.4,273.5L583.8,271.1L586.1,273.5L583.8,275.9ZM579.9,284.8L582.2,282.4L584.6,284.8L582.2,287.1ZM582.9,266.0L585.2,263.6L587.6,266.0L585.2,268.4ZM585.9,263.8L588.2,261.4L590.6,263.8L588.2,266.1ZM586.9,266.0L589.3,263.6L591.7,266.0L589.3,268.4ZM588.1,267.5L590.5,265.1L592.9,267.5L590.5,269.9ZM589.6,275.0L592.0,272.6L594.4,275.0L592.0,277.4ZM591.1,276.5L593.5,274.1L595.9,276.5L593.5,278.9ZM593.1,275.8L595.5,273.4L597.9,275.8L595.5,278.1ZM594.9,269.8L597.2,267.4L599.6,269.8L597.2,272.1ZM596.6,263.3L599.0,260.9L601.4,263.3L599.0,265.7ZM598.1,282.2L600.5,279.8L602.9,282.2L600.5,284.6ZM615.1,283.2L617.5,280.9L619.9,283.2L617.5,285.6ZM616.6,278.8L619.0,276.4L621.4,278.8L619.0,281.1ZM617.8,273.5L620.2,271.1L622.6,273.5L620.2,275.9ZM618.4,277.2L620.8,274.9L623.2,277.2L620.8,279.6ZM549.1,299.2L551.5,296.9L553.9,299.2L551.5,301.6ZM551.4,289.2L553.8,286.8L556.1,289.2L553.8,291.6ZM566.4,289.5L568.8,287.1L571.1,289.5L568.8,291.9ZM568.3,300.0L570.7,297.6L573.1,300.0L570.7,302.4ZM568.9,306.8L571.3,304.4L573.7,306.8L571.3,309.1ZM599.6,293.7L602.0,291.3L604.4,293.7L602.0,296.1ZM601.6,299.2L604.0,296.9L606.4,299.2L604.0,301.6ZM603.1,289.5L605.5,287.1L607.9,289.5L605.5,291.9ZM604.6,295.5L607.0,293.1L609.4,295.5L607.0,297.9ZM606.4,304.2L608.8,301.8L611.2,304.2L608.8,306.6ZM607.1,296.2L609.5,293.9L611.9,296.2L609.5,298.6ZM609.9,306.8L612.2,304.4L614.6,306.8L612.2,309.1ZM611.4,294.8L613.8,292.4L616.1,294.8L613.8,297.1ZM613.3,294.8L615.7,292.4L618.1,294.8L615.7,297.1Z"/>
</g>
<g id="note">
<rect x="209" y="371.7" width="126.2" height="23.5" fill="#ffffff" stroke="#2a2a2a" stroke-width="0.9"/>
<text class="sans" x="214.7" y="381.7" font-size="7.5" fill="#111111" textLength="113.4" lengthAdjust="spacingAndGlyphs">Leakage Coefficient = 0.5 cfs/ft-head</text>
<text class="sans" x="214.7" y="391.1" font-size="7.5" fill="#111111" textLength="100.3" lengthAdjust="spacingAndGlyphs">Leakage Outside Pond = 11 in/yr</text>
</g>

<g id="legend" stroke-width="0.15">
<rect x="200.3" y="441.6" width="411.4" height="22.5" fill="#ffffff" stroke="#2a2a2a" stroke-width="0.9"/>
<line x1="225.3" y1="447.3" x2="239.6" y2="447.3" stroke="#487dbe" stroke-width="1.6"/>
<text class="sans" x="240.6" y="449.6" font-size="6.7" fill="#111111" textLength="58.4" lengthAdjust="spacingAndGlyphs">Predicted Lake Level</text>
<path d="M231,458.6L232.7,456.9L234.4,458.6L232.7,460.3Z" fill="#8ee04a"/>
<text class="sans" x="240.6" y="460.9" font-size="6.7" fill="#111111" textLength="137.8" lengthAdjust="spacingAndGlyphs">Measured Lake Level (City Pumping Data Sheets)</text>
<path d="M436,447.3L438,445.3L440,447.3L438,449.3Z" fill="#c0504d"/>
<text class="sans" x="446.8" y="449.6" font-size="6.7" fill="#111111" textLength="126" lengthAdjust="spacingAndGlyphs">Measured Lake Level (Seminole Water Atlas)</text>
<line x1="431" y1="458.6" x2="445.4" y2="458.6" stroke="#f53cf0" stroke-width="0.8"/>
<text class="sans" x="446.8" y="460.9" font-size="6.7" fill="#111111" textLength="139.2" lengthAdjust="spacingAndGlyphs">Measured Lake Level (City Pumping Spreadsheet)</text>
</g>

<g id="logo">
<rect x="644.6" y="541" width="53" height="3" fill="#1d6b2c"/>
<rect x="644.6" y="545.3" width="100" height="2.8" fill="url(#goldbar)"/>
<text class="sans" x="644.2" y="537.9" font-size="22.3" font-weight="bold" fill="url(#gold)" stroke="#b0853a" stroke-width="1.1" paint-order="stroke" textLength="63.6" lengthAdjust="spacingAndGlyphs">DEVO</text>
<line x1="698.6" y1="520.4" x2="698.6" y2="562" stroke="#a9852f" stroke-width="1"/>
<line x1="689" y1="531" x2="708.4" y2="531" stroke="#a9852f" stroke-width="1"/>
<circle cx="698.6" cy="531" r="7.7" fill="#ffffff" stroke="#b8923c" stroke-width="1.7"/>
<path d="M698.6,531 L698.6,524.6 A6.4,6.4 0 0 1 705,531 Z" fill="#2a5fae"/>
<path d="M698.6,531 L698.6,537.4 A6.4,6.4 0 0 1 692.2,531 Z" fill="#2a5fae"/>
<path d="M699.6,526.4 l2.6,0.6 l0.6,2.6 l-2.2,0.4 Z M694.6,532.4 l2.8,0.2 l0.2,3.4 l-2.2,-1.2 Z" fill="#3f9a3a"/>
<text class="serif" transform="translate(702.6,556.2) rotate(-36)" font-size="13.5" font-style="italic" fill="#bd9e54" textLength="53" lengthAdjust="spacingAndGlyphs">Engineering</text>
</g>

</svg></body></html>
